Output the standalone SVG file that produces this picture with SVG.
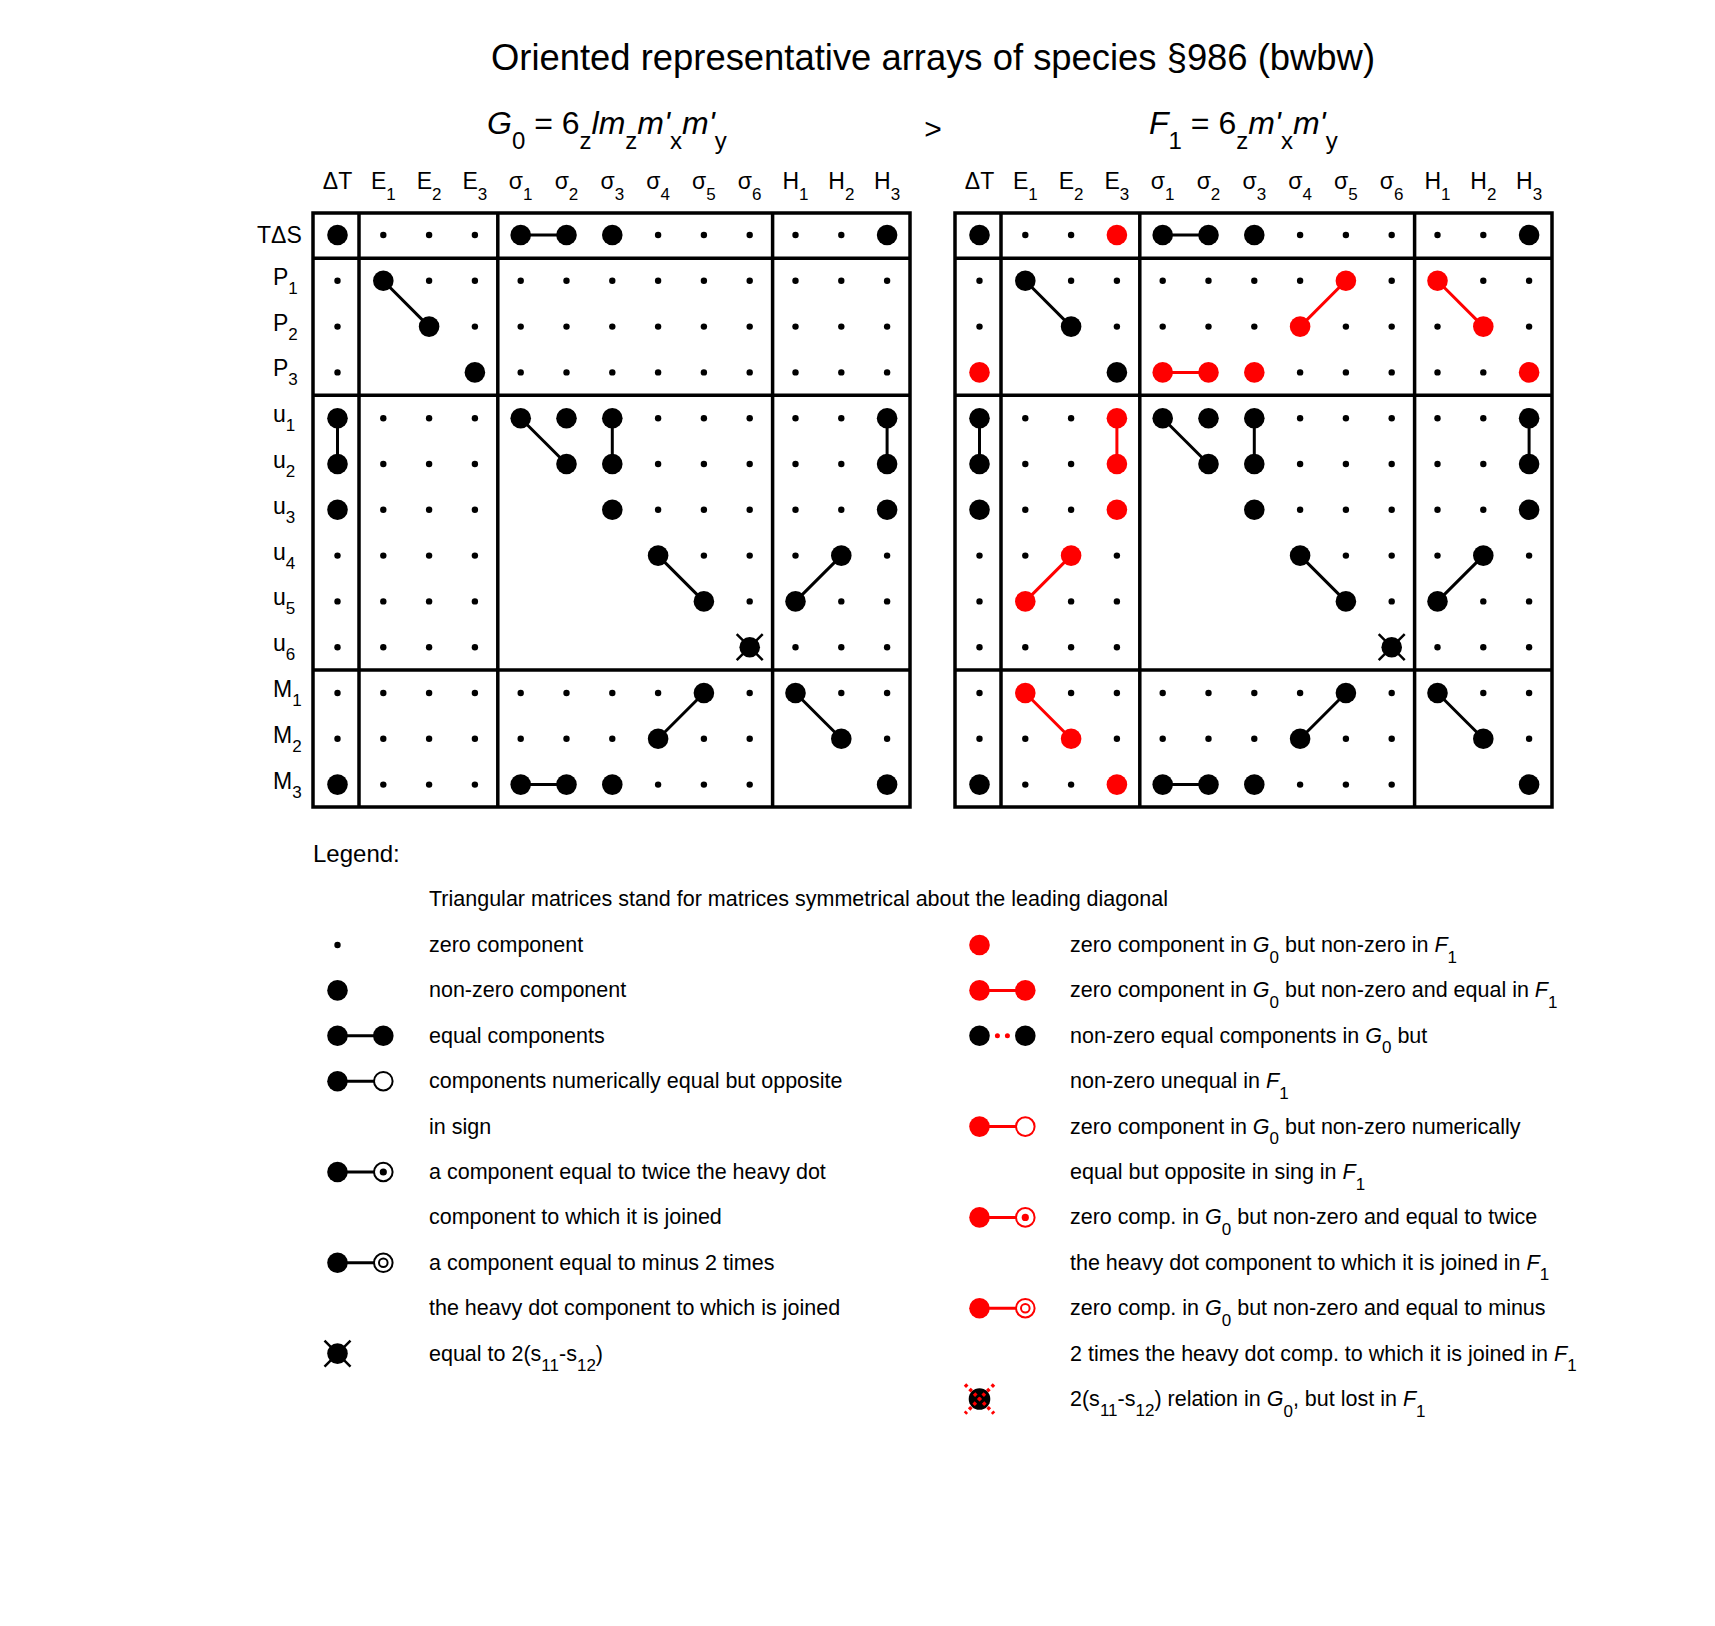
<svg xmlns="http://www.w3.org/2000/svg" width="1715" height="1626" viewBox="0 0 1715 1626">
<style>
text{font-family:"Liberation Sans",Arial,sans-serif;fill:#000}
.h{font-size:23px}
.sb{font-size:17px}
.lg{font-size:21.5px}
.ls{font-size:17px}
.it{font-style:italic}
.frame{fill:none;stroke:#000;stroke-width:3.5}
.c{stroke:#000;stroke-width:3;fill:none}
.cr{stroke:#f00;stroke-width:3;fill:none}
</style>
<defs>
<circle id="s" r="3.2"/>
<circle id="b" r="10.3"/>
<circle id="rd" r="10.3" fill="#f00"/>
<g id="x"><circle r="10.3"/><path d="M-13,-13L13,13M13,-13L-13,13" stroke="#000" stroke-width="2.5"/></g>
</defs>
<rect width="1715" height="1626" fill="#fff"/>

<g id="title">
<text x="491" y="70" font-size="37.5" textLength="884" lengthAdjust="spacingAndGlyphs">Oriented representative arrays of species §986 (bwbw)</text>
</g>
<g id="formula-G0">
<text x="487" y="134" font-size="32"><tspan class="it">G</tspan><tspan font-size="24" dy="15">0</tspan><tspan dy="-15"> = 6</tspan><tspan font-size="24" dy="15">z</tspan><tspan class="it" dy="-15">lm</tspan><tspan font-size="24" dy="15">z</tspan><tspan class="it" dy="-15">m'</tspan><tspan font-size="24" dy="15">x</tspan><tspan class="it" dy="-15">m'</tspan><tspan font-size="24" dy="15">y</tspan></text>
</g>
<g id="relation"><text x="933" y="139" text-anchor="middle" font-size="30">&gt;</text></g>
<g id="formula-F1">
<text x="1149" y="134" font-size="32"><tspan class="it">F</tspan><tspan font-size="24" dy="15">1</tspan><tspan dy="-15"> = 6</tspan><tspan font-size="24" dy="15">z</tspan><tspan class="it" dy="-15">m'</tspan><tspan font-size="24" dy="15">x</tspan><tspan class="it" dy="-15">m'</tspan><tspan font-size="24" dy="15">y</tspan></text>
</g>

<g id="G0-headers" class="h" text-anchor="middle">
<text x="337.5" y="188.5">ΔT</text>
<text x="383.3" y="188.5">E<tspan class="sb" dy="11">1</tspan></text>
<text x="429.1" y="188.5">E<tspan class="sb" dy="11">2</tspan></text>
<text x="474.9" y="188.5">E<tspan class="sb" dy="11">3</tspan></text>
<text x="520.7" y="188.5">σ<tspan class="sb" dy="11">1</tspan></text>
<text x="566.5" y="188.5">σ<tspan class="sb" dy="11">2</tspan></text>
<text x="612.3" y="188.5">σ<tspan class="sb" dy="11">3</tspan></text>
<text x="658.1" y="188.5">σ<tspan class="sb" dy="11">4</tspan></text>
<text x="703.9" y="188.5">σ<tspan class="sb" dy="11">5</tspan></text>
<text x="749.7" y="188.5">σ<tspan class="sb" dy="11">6</tspan></text>
<text x="795.5" y="188.5">H<tspan class="sb" dy="11">1</tspan></text>
<text x="841.3" y="188.5">H<tspan class="sb" dy="11">2</tspan></text>
<text x="887.1" y="188.5">H<tspan class="sb" dy="11">3</tspan></text>
</g>
<g id="F1-headers" class="h" text-anchor="middle">
<text x="979.5" y="188.5">ΔT</text>
<text x="1025.3" y="188.5">E<tspan class="sb" dy="11">1</tspan></text>
<text x="1071.1" y="188.5">E<tspan class="sb" dy="11">2</tspan></text>
<text x="1116.9" y="188.5">E<tspan class="sb" dy="11">3</tspan></text>
<text x="1162.7" y="188.5">σ<tspan class="sb" dy="11">1</tspan></text>
<text x="1208.5" y="188.5">σ<tspan class="sb" dy="11">2</tspan></text>
<text x="1254.3" y="188.5">σ<tspan class="sb" dy="11">3</tspan></text>
<text x="1300.1" y="188.5">σ<tspan class="sb" dy="11">4</tspan></text>
<text x="1345.9" y="188.5">σ<tspan class="sb" dy="11">5</tspan></text>
<text x="1391.7" y="188.5">σ<tspan class="sb" dy="11">6</tspan></text>
<text x="1437.5" y="188.5">H<tspan class="sb" dy="11">1</tspan></text>
<text x="1483.3" y="188.5">H<tspan class="sb" dy="11">2</tspan></text>
<text x="1529.1" y="188.5">H<tspan class="sb" dy="11">3</tspan></text>
</g>
<g id="row-labels" class="h">
<text x="257" y="243">TΔS</text>
<text x="273" y="284.8">P<tspan class="sb" dy="9">1</tspan></text>
<text x="273" y="330.6">P<tspan class="sb" dy="9">2</tspan></text>
<text x="273" y="376.4">P<tspan class="sb" dy="9">3</tspan></text>
<text x="273" y="422.2">u<tspan class="sb" dy="9">1</tspan></text>
<text x="273" y="468">u<tspan class="sb" dy="9">2</tspan></text>
<text x="273" y="513.8">u<tspan class="sb" dy="9">3</tspan></text>
<text x="273" y="559.6">u<tspan class="sb" dy="9">4</tspan></text>
<text x="273" y="605.4">u<tspan class="sb" dy="9">5</tspan></text>
<text x="273" y="651.2">u<tspan class="sb" dy="9">6</tspan></text>
<text x="273" y="697">M<tspan class="sb" dy="9">1</tspan></text>
<text x="273" y="742.8">M<tspan class="sb" dy="9">2</tspan></text>
<text x="273" y="788.6">M<tspan class="sb" dy="9">3</tspan></text>
</g>

<g id="G0-frame" class="frame">
<rect x="313" y="213" width="597" height="594"/>
<path d="M359,213V807M497.8,213V807M772.6,213V807M313,258.3H910M313,395.3H910M313,670.1H910"/>
</g>
<use id="F1-frame" href="#G0-frame" x="642"/>

<g id="connectors">
<g id="G0-links" class="c">
<path d="M520.7,235H566.5"/>
<path d="M383.3,280.8L429.1,326.6"/>
<path d="M337.5,418.2V464"/>
<path d="M520.7,418.2L566.5,464"/>
<path d="M612.3,418.2V464"/>
<path d="M887.1,418.2V464"/>
<path d="M658.1,555.6L703.9,601.4"/>
<path d="M841.3,555.6L795.5,601.4"/>
<path d="M703.9,693L658.1,738.8"/>
<path d="M795.5,693L841.3,738.8"/>
<path d="M520.7,784.6H566.5"/>
</g>
<use id="F1-links" href="#G0-links" x="642"/>
<g id="F1-red-links" class="cr">
<path d="M1345.9,280.8L1300.1,326.6"/>
<path d="M1437.5,280.8L1483.3,326.6"/>
<path d="M1162.7,372.4H1208.5"/>
<path d="M1116.9,418.2V464"/>
<path d="M1071.1,555.6L1025.3,601.4"/>
<path d="M1025.3,693L1071.1,738.8"/>
</g>
</g>

<g id="G0-dots">
<g id="G0-r0" transform="translate(0,235)"><use href="#b" x="337.5"/><use href="#s" x="383.3"/><use href="#s" x="429.1"/><use href="#s" x="474.9"/><use href="#b" x="520.7"/><use href="#b" x="566.5"/><use href="#b" x="612.3"/><use href="#s" x="658.1"/><use href="#s" x="703.9"/><use href="#s" x="749.7"/><use href="#s" x="795.5"/><use href="#s" x="841.3"/><use href="#b" x="887.1"/></g>
<g id="G0-r1" transform="translate(0,280.8)"><use href="#s" x="337.5"/><use href="#b" x="383.3"/><use href="#s" x="429.1"/><use href="#s" x="474.9"/><use href="#s" x="520.7"/><use href="#s" x="566.5"/><use href="#s" x="612.3"/><use href="#s" x="658.1"/><use href="#s" x="703.9"/><use href="#s" x="749.7"/><use href="#s" x="795.5"/><use href="#s" x="841.3"/><use href="#s" x="887.1"/></g>
<g id="G0-r2" transform="translate(0,326.6)"><use href="#s" x="337.5"/><use href="#b" x="429.1"/><use href="#s" x="474.9"/><use href="#s" x="520.7"/><use href="#s" x="566.5"/><use href="#s" x="612.3"/><use href="#s" x="658.1"/><use href="#s" x="703.9"/><use href="#s" x="749.7"/><use href="#s" x="795.5"/><use href="#s" x="841.3"/><use href="#s" x="887.1"/></g>
<g id="G0-r3" transform="translate(0,372.4)"><use href="#s" x="337.5"/><use href="#b" x="474.9"/><use href="#s" x="520.7"/><use href="#s" x="566.5"/><use href="#s" x="612.3"/><use href="#s" x="658.1"/><use href="#s" x="703.9"/><use href="#s" x="749.7"/><use href="#s" x="795.5"/><use href="#s" x="841.3"/><use href="#s" x="887.1"/></g>
<g id="G0-r4" transform="translate(0,418.2)"><use href="#b" x="337.5"/><use href="#s" x="383.3"/><use href="#s" x="429.1"/><use href="#s" x="474.9"/><use href="#b" x="520.7"/><use href="#b" x="566.5"/><use href="#b" x="612.3"/><use href="#s" x="658.1"/><use href="#s" x="703.9"/><use href="#s" x="749.7"/><use href="#s" x="795.5"/><use href="#s" x="841.3"/><use href="#b" x="887.1"/></g>
<g id="G0-r5" transform="translate(0,464)"><use href="#b" x="337.5"/><use href="#s" x="383.3"/><use href="#s" x="429.1"/><use href="#s" x="474.9"/><use href="#b" x="566.5"/><use href="#b" x="612.3"/><use href="#s" x="658.1"/><use href="#s" x="703.9"/><use href="#s" x="749.7"/><use href="#s" x="795.5"/><use href="#s" x="841.3"/><use href="#b" x="887.1"/></g>
<g id="G0-r6" transform="translate(0,509.8)"><use href="#b" x="337.5"/><use href="#s" x="383.3"/><use href="#s" x="429.1"/><use href="#s" x="474.9"/><use href="#b" x="612.3"/><use href="#s" x="658.1"/><use href="#s" x="703.9"/><use href="#s" x="749.7"/><use href="#s" x="795.5"/><use href="#s" x="841.3"/><use href="#b" x="887.1"/></g>
<g id="G0-r7" transform="translate(0,555.6)"><use href="#s" x="337.5"/><use href="#s" x="383.3"/><use href="#s" x="429.1"/><use href="#s" x="474.9"/><use href="#b" x="658.1"/><use href="#s" x="703.9"/><use href="#s" x="749.7"/><use href="#s" x="795.5"/><use href="#b" x="841.3"/><use href="#s" x="887.1"/></g>
<g id="G0-r8" transform="translate(0,601.4)"><use href="#s" x="337.5"/><use href="#s" x="383.3"/><use href="#s" x="429.1"/><use href="#s" x="474.9"/><use href="#b" x="703.9"/><use href="#s" x="749.7"/><use href="#b" x="795.5"/><use href="#s" x="841.3"/><use href="#s" x="887.1"/></g>
<g id="G0-r9" transform="translate(0,647.2)"><use href="#s" x="337.5"/><use href="#s" x="383.3"/><use href="#s" x="429.1"/><use href="#s" x="474.9"/><use href="#x" x="749.7"/><use href="#s" x="795.5"/><use href="#s" x="841.3"/><use href="#s" x="887.1"/></g>
<g id="G0-r10" transform="translate(0,693)"><use href="#s" x="337.5"/><use href="#s" x="383.3"/><use href="#s" x="429.1"/><use href="#s" x="474.9"/><use href="#s" x="520.7"/><use href="#s" x="566.5"/><use href="#s" x="612.3"/><use href="#s" x="658.1"/><use href="#b" x="703.9"/><use href="#s" x="749.7"/><use href="#b" x="795.5"/><use href="#s" x="841.3"/><use href="#s" x="887.1"/></g>
<g id="G0-r11" transform="translate(0,738.8)"><use href="#s" x="337.5"/><use href="#s" x="383.3"/><use href="#s" x="429.1"/><use href="#s" x="474.9"/><use href="#s" x="520.7"/><use href="#s" x="566.5"/><use href="#s" x="612.3"/><use href="#b" x="658.1"/><use href="#s" x="703.9"/><use href="#s" x="749.7"/><use href="#b" x="841.3"/><use href="#s" x="887.1"/></g>
<g id="G0-r12" transform="translate(0,784.6)"><use href="#b" x="337.5"/><use href="#s" x="383.3"/><use href="#s" x="429.1"/><use href="#s" x="474.9"/><use href="#b" x="520.7"/><use href="#b" x="566.5"/><use href="#b" x="612.3"/><use href="#s" x="658.1"/><use href="#s" x="703.9"/><use href="#s" x="749.7"/><use href="#b" x="887.1"/></g>
</g>
<use id="F1-dots" href="#G0-dots" x="642"/>
<g id="F1-red-dots">
<use href="#rd" x="1116.9" y="235"/>
<use href="#rd" x="1345.9" y="280.8"/>
<use href="#rd" x="1437.5" y="280.8"/>
<use href="#rd" x="1300.1" y="326.6"/>
<use href="#rd" x="1483.3" y="326.6"/>
<use href="#rd" x="979.5" y="372.4"/>
<use href="#rd" x="1162.7" y="372.4"/>
<use href="#rd" x="1208.5" y="372.4"/>
<use href="#rd" x="1254.3" y="372.4"/>
<use href="#rd" x="1529.1" y="372.4"/>
<use href="#rd" x="1116.9" y="418.2"/>
<use href="#rd" x="1116.9" y="464"/>
<use href="#rd" x="1116.9" y="509.8"/>
<use href="#rd" x="1071.1" y="555.6"/>
<use href="#rd" x="1025.3" y="601.4"/>
<use href="#rd" x="1025.3" y="693"/>
<use href="#rd" x="1071.1" y="738.8"/>
<use href="#rd" x="1116.9" y="784.6"/>
</g>

<g id="legend">
<text x="313" y="862" font-size="24">Legend:</text>
<text class="lg" x="429" y="906.4">Triangular matrices stand for matrices symmetrical about the leading diagonal</text>

<g id="lg-zero"><use href="#s" x="337.5" y="945"/><text class="lg" x="429" y="952">zero component</text></g>
<g id="lg-nonzero"><use href="#b" x="337.5" y="990.4"/><text class="lg" x="429" y="997.4">non-zero component</text></g>
<g id="lg-equal"><path class="c" d="M337.5,1035.8H383.3"/><use href="#b" x="337.5" y="1035.8"/><use href="#b" x="383.3" y="1035.8"/><text class="lg" x="429" y="1042.8">equal components</text></g>
<g id="lg-opposite"><path class="c" d="M337.5,1081.2H383.3"/><use href="#b" x="337.5" y="1081.2"/><circle cx="383.3" cy="1081.2" r="9.3" fill="#fff" stroke="#000" stroke-width="2"/><text class="lg" x="429" y="1088.2">components numerically equal but opposite</text><text class="lg" x="429" y="1133.6">in sign</text></g>
<g id="lg-twice"><path class="c" d="M337.5,1172H383.3"/><use href="#b" x="337.5" y="1172"/><circle cx="383.3" cy="1172" r="9.3" fill="#fff" stroke="#000" stroke-width="2"/><circle cx="383.3" cy="1172" r="3.6"/><text class="lg" x="429" y="1179">a component equal to twice the heavy dot</text><text class="lg" x="429" y="1224.4">component to which it is joined</text></g>
<g id="lg-minus2"><path class="c" d="M337.5,1262.8H383.3"/><use href="#b" x="337.5" y="1262.8"/><circle cx="383.3" cy="1262.8" r="9.3" fill="#fff" stroke="#000" stroke-width="2"/><circle cx="383.3" cy="1262.8" r="4.3" fill="#fff" stroke="#000" stroke-width="2"/><text class="lg" x="429" y="1269.8">a component equal to minus 2 times</text><text class="lg" x="429" y="1315.2">the heavy dot component to which is joined</text></g>
<g id="lg-s11s12"><use href="#x" x="337.5" y="1353.6"/><text class="lg" x="429" y="1360.6">equal to 2(s<tspan class="ls" dy="10">11</tspan><tspan dy="-10">-s</tspan><tspan class="ls" dy="10">12</tspan><tspan dy="-10">)</tspan></text></g>

<g id="lg-red-zero"><use href="#rd" x="979.5" y="945"/><text class="lg" x="1070" y="952">zero component in <tspan class="it">G</tspan><tspan class="ls" dy="10.5">0</tspan><tspan dy="-10.5"> but non-zero in </tspan><tspan class="it">F</tspan><tspan class="ls" dy="10.5">1</tspan></text></g>
<g id="lg-red-equal"><path class="cr" d="M979.5,990.4H1025.3"/><use href="#rd" x="979.5" y="990.4"/><use href="#rd" x="1025.3" y="990.4"/><text class="lg" x="1070" y="997.4">zero component in <tspan class="it">G</tspan><tspan class="ls" dy="10.5">0</tspan><tspan dy="-10.5"> but non-zero and equal in </tspan><tspan class="it">F</tspan><tspan class="ls" dy="10.5">1</tspan></text></g>
<g id="lg-unequal"><use href="#b" x="979.5" y="1035.8"/><use href="#b" x="1025.3" y="1035.8"/><circle cx="997.4" cy="1035.8" r="2.5" fill="#f00"/><circle cx="1007.4" cy="1035.8" r="2.5" fill="#f00"/><text class="lg" x="1070" y="1042.8">non-zero equal components in <tspan class="it">G</tspan><tspan class="ls" dy="10.5">0</tspan><tspan dy="-10.5"> but</tspan></text><text class="lg" x="1070" y="1088.2">non-zero unequal in <tspan class="it">F</tspan><tspan class="ls" dy="10.5">1</tspan></text></g>
<g id="lg-red-opposite"><path class="cr" d="M979.5,1126.6H1025.3"/><use href="#rd" x="979.5" y="1126.6"/><circle cx="1025.3" cy="1126.6" r="9.3" fill="#fff" stroke="#f00" stroke-width="2"/><text class="lg" x="1070" y="1133.6">zero component in <tspan class="it">G</tspan><tspan class="ls" dy="10.5">0</tspan><tspan dy="-10.5"> but non-zero numerically</tspan></text><text class="lg" x="1070" y="1179">equal but opposite in sing in <tspan class="it">F</tspan><tspan class="ls" dy="10.5">1</tspan></text></g>
<g id="lg-red-twice"><path class="cr" d="M979.5,1217.4H1025.3"/><use href="#rd" x="979.5" y="1217.4"/><circle cx="1025.3" cy="1217.4" r="9.3" fill="#fff" stroke="#f00" stroke-width="2"/><circle cx="1025.3" cy="1217.4" r="3.6" fill="#f00"/><text class="lg" x="1070" y="1224.4">zero comp. in <tspan class="it">G</tspan><tspan class="ls" dy="10.5">0</tspan><tspan dy="-10.5"> but non-zero and equal to twice</tspan></text><text class="lg" x="1070" y="1269.8">the heavy dot component to which it is joined in <tspan class="it">F</tspan><tspan class="ls" dy="10.5">1</tspan></text></g>
<g id="lg-red-minus2"><path class="cr" d="M979.5,1308.2H1025.3"/><use href="#rd" x="979.5" y="1308.2"/><circle cx="1025.3" cy="1308.2" r="9.3" fill="#fff" stroke="#f00" stroke-width="2"/><circle cx="1025.3" cy="1308.2" r="4.3" fill="#fff" stroke="#f00" stroke-width="2"/><text class="lg" x="1070" y="1315.2">zero comp. in <tspan class="it">G</tspan><tspan class="ls" dy="10.5">0</tspan><tspan dy="-10.5"> but non-zero and equal to minus</tspan></text><text class="lg" x="1070" y="1360.6">2 times the heavy dot comp. to which it is joined in <tspan class="it">F</tspan><tspan class="ls" dy="10.5">1</tspan></text></g>
<g id="lg-lost"><circle cx="979.5" cy="1399" r="10.8"/><path d="M965,1384.5L994,1413.5M994,1384.5L965,1413.5" stroke="#f00" stroke-width="3.5" stroke-dasharray="3.2,3.2"/><text class="lg" x="1070" y="1406">2(s<tspan class="ls" dy="10">11</tspan><tspan dy="-10">-s</tspan><tspan class="ls" dy="10">12</tspan><tspan dy="-10">) relation in </tspan><tspan class="it">G</tspan><tspan class="ls" dy="10.5">0</tspan><tspan dy="-10.5">, but lost in </tspan><tspan class="it">F</tspan><tspan class="ls" dy="10.5">1</tspan></text></g>
</g>
</svg>
